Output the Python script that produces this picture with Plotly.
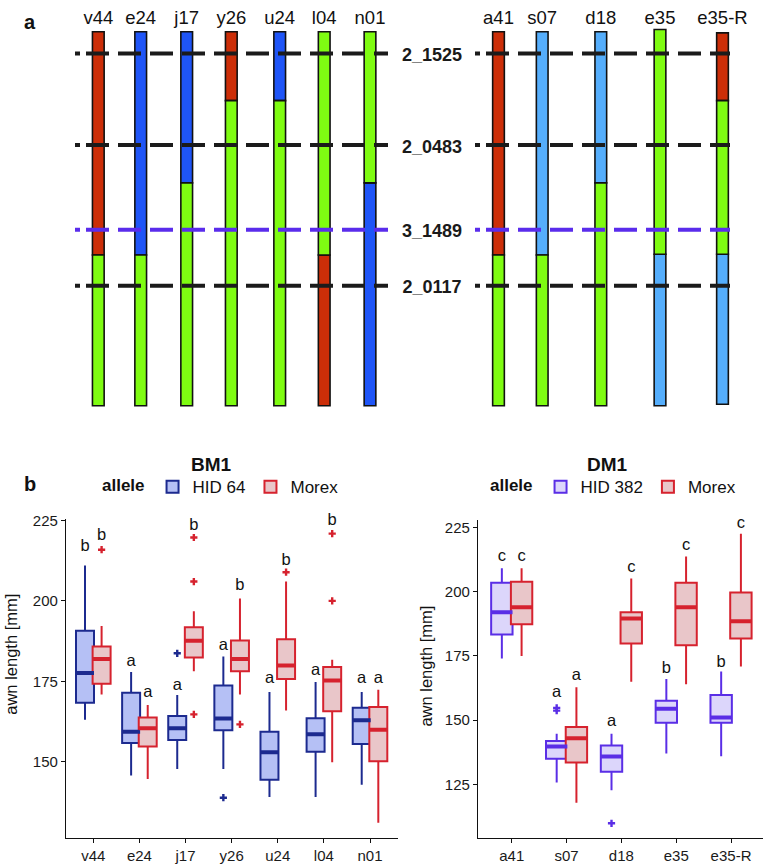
import plotly.graph_objects as go

# ---------------- DATA ----------------
# Panel a: graphical genotypes (positions in relative units, 0 = top, 100 = bottom)
chrom_lines = ["v44", "e24", "j17", "y26", "u24", "l04", "n01", "a41", "s07", "d18", "e35", "e35-R"]
seg_line = ["v44", "v44", "e24", "e24", "j17", "j17", "y26", "y26", "u24", "u24", "l04", "l04",
            "n01", "n01", "a41", "a41", "s07", "s07", "d18", "d18", "e35", "e35",
            "e35-R", "e35-R", "e35-R"]
seg_geno = ["Morex", "Bowman", "HID 64", "Bowman", "HID 64", "Bowman", "Morex", "Bowman",
            "HID 64", "Bowman", "Bowman", "Morex", "Bowman", "HID 64", "Morex", "Bowman",
            "HID 382", "Bowman", "HID 382", "Bowman", "Bowman", "HID 382",
            "Morex", "Bowman", "HID 382"]
seg_start = [0, 59.7, 0, 59.7, 0, 40.4, 0, 18.4, 0, 18.4, 0, 59.7, 0, 40.4, 0, 59.7,
             0, 59.7, 0, 40.4, -0.6, 59.5, 0.3, 18.4, 59.5]
seg_end = [59.7, 100, 59.7, 100, 40.4, 100, 18.4, 100, 18.4, 100, 59.7, 100, 40.4, 100, 59.7, 100,
           59.7, 100, 40.4, 100, 59.5, 100, 18.4, 59.5, 99.6]
marker_names = ["2_1525", "2_0483", "3_1489", "2_0117"]
marker_pos = [5.8, 30.3, 52.9, 67.9]

# Panel b: BM1
bm1_lines = ["v44", "e24", "j17", "y26", "u24", "l04", "n01"]
bm1_hid_low = [163.0, 145.7, 147.7, 147.7, 139.0, 139.0, 142.8]
bm1_hid_q1 = [168.3, 155.8, 156.7, 159.8, 144.4, 153.1, 155.5]
bm1_hid_med = [177.6, 159.3, 160.4, 163.4, 152.9, 158.5, 162.9]
bm1_hid_q3 = [190.7, 171.4, 164.2, 173.7, 159.3, 163.5, 166.8]
bm1_hid_up = [211.0, 177.9, 170.7, 182.7, 171.7, 174.8, 171.7]
bm1_hid_out_line = ["j17", "y26"]
bm1_hid_out_val = [183.7, 138.8]
bm1_mx_low = [170.9, 144.6, 178.1, 170.9, 165.9, 149.8, 131.0]
bm1_mx_q1 = [174.2, 154.7, 182.4, 178.1, 175.7, 165.7, 150.1]
bm1_mx_med = [181.9, 160.4, 187.6, 181.9, 179.9, 175.2, 159.9]
bm1_mx_q3 = [185.8, 163.7, 191.8, 187.7, 188.1, 179.4, 167.0]
bm1_mx_up = [192.2, 167.6, 196.8, 200.7, 206.0, 181.7, 172.4]
bm1_mx_out_line = ["v44", "j17", "j17", "j17", "y26", "u24", "l04", "l04"]
bm1_mx_out_val = [215.9, 219.7, 206.0, 164.7, 161.6, 208.9, 220.9, 200.0]
bm1_hid_letters = ["b", "a", "a", "a", "a", "a", "a"]
bm1_hid_letter_y = [216.9, 181.0, 173.7, 186.0, 175.8, 178.3, 175.8]
bm1_mx_letters = ["b", "a", "b", "b", "b", "b", "a"]
bm1_mx_letter_y = [220.2, 171.4, 223.3, 204.6, 212.5, 224.8, 175.8]

# Panel b: DM1
dm1_lines = ["a41", "s07", "d18", "e35", "e35-R"]
dm1_hid_low = [174.0, 125.8, 122.8, 137.0, 136.0]
dm1_hid_q1 = [183.3, 135.0, 129.9, 149.0, 149.0]
dm1_hid_med = [192.0, 139.8, 135.9, 154.4, 151.0]
dm1_hid_q3 = [203.4, 141.9, 140.2, 157.6, 159.8]
dm1_hid_up = [209.1, 144.7, 144.7, 166.0, 168.9]
dm1_hid_out_line = ["s07", "s07", "d18"]
dm1_hid_out_val = [154.8, 153.7, 109.9]
dm1_mx_low = [175.0, 117.9, 164.9, 164.0, 170.9]
dm1_mx_q1 = [187.3, 133.5, 179.8, 179.1, 181.8]
dm1_mx_med = [193.9, 143.0, 189.5, 193.9, 188.5]
dm1_mx_q3 = [203.8, 147.3, 192.0, 203.4, 199.6]
dm1_mx_up = [209.1, 162.8, 205.1, 213.6, 222.5]
dm1_hid_letters = ["c", "a", "a", "b", "b"]
dm1_hid_letter_y = [213.6, 160.8, 149.5, 169.8, 172.2]
dm1_mx_letters = ["c", "a", "c", "c", "c"]
dm1_mx_letter_y = [213.6, 167.3, 209.4, 217.6, 226.5]

# ---------------- LAYOUT / STYLE ----------------
W, H = 767, 866
FONT = "Liberation Sans, Arial, sans-serif"
lane_x = [98.3, 140.7, 186.7, 231.3, 279.7, 324.2, 370.0, 498.5, 542.2, 600.8, 660.0, 722.5]
lane_pos = dict(zip(chrom_lines, lane_x))
geno_color = {"Morex": "#cc2e08", "HID 64": "#1f55f7", "HID 382": "#55aefc", "Bowman": "#7ffc12"}
marker_color = ["#1b1b1b", "#1b1b1b", "#5a2cec", "#1b1b1b"]
seg_left = (75, 388)
seg_right = (475, 730)
label_x = 432
dash = "5px,6px," + ",".join(["23px,9px"] * 14)

c_hid64 = "#1c2a8f"
f_hid64 = "#b5c0f5"
c_hid382 = "#5a2ee6"
f_hid382 = "#dcd6fb"
c_mx = "#d6222e"
f_mx = "#e9c6c9"
off = 0.18
bw = 0.39


def px(x):
    return x / W


def py(y):
    return 1 - y / H


fig = go.Figure()

# ---- Panel a ----
for g in ["Morex", "HID 64", "HID 382", "Bowman"]:
    idx = [i for i, s in enumerate(seg_geno) if s == g]
    fig.add_trace(go.Bar(
        x=[lane_pos[seg_line[i]] for i in idx],
        base=[seg_start[i] for i in idx],
        y=[seg_end[i] - seg_start[i] for i in idx],
        width=11.7,
        marker=dict(color=geno_color[g], line=dict(color="#111", width=1.6)),
        showlegend=False, hoverinfo="skip", xaxis="x", yaxis="y"))

for name, pos, col in zip(marker_names, marker_pos, marker_color):
    for a, b in (seg_left, seg_right):
        fig.add_trace(go.Scatter(
            x=[a, b], y=[pos, pos], mode="lines",
            line=dict(color=col, width=4, dash=dash),
            showlegend=False, hoverinfo="skip", xaxis="x", yaxis="y"))

fig.add_trace(go.Scatter(
    x=[label_x] * len(marker_names), y=[p + 0.8 for p in marker_pos],
    mode="text", text=["<b>%s</b>" % m for m in marker_names],
    textfont=dict(size=18, color="#1a1a1a", family=FONT),
    showlegend=False, hoverinfo="skip", xaxis="x", yaxis="y"))

fig.add_trace(go.Scatter(
    x=lane_x, y=[-3.3] * len(chrom_lines), mode="text", text=chrom_lines,
    textfont=dict(size=18.5, color="#111", family=FONT),
    showlegend=False, hoverinfo="skip", xaxis="x", yaxis="y", cliponaxis=False))


# ---- Panel b ----
def add_boxes(lines, low, q1, med, q3, up, out_line, out_val, letters, letter_y,
              shift, lc, fc, name, xa, ya, legend):
    xs = [i + shift for i in range(len(lines))]
    fig.add_trace(go.Box(
        x=xs, q1=q1, median=med, q3=q3, lowerfence=low, upperfence=up,
        width=bw, whiskerwidth=0, boxpoints=False,
        line=dict(color=lc, width=2), fillcolor=fc, name=name,
        legend=legend, xaxis=xa, yaxis=ya, hoverinfo="skip"))
    mx, my = [], []
    for x, m in zip(xs, med):
        mx += [x - bw / 2, x + bw / 2, None]
        my += [m, m, None]
    fig.add_trace(go.Scatter(x=mx, y=my, mode="lines", line=dict(color=lc, width=4),
                             showlegend=False, hoverinfo="skip", xaxis=xa, yaxis=ya))
    fig.add_trace(go.Scatter(
        x=[lines.index(l) + shift for l in out_line], y=out_val, mode="markers",
        marker=dict(symbol="cross", size=6, color=lc, line=dict(width=0)),
        showlegend=False, hoverinfo="skip", xaxis=xa, yaxis=ya))
    fig.add_trace(go.Scatter(
        x=xs, y=letter_y, mode="text", text=letters,
        textfont=dict(size=16.5, color="#111", family=FONT),
        showlegend=False, hoverinfo="skip", xaxis=xa, yaxis=ya, cliponaxis=False))


add_boxes(bm1_lines, bm1_hid_low, bm1_hid_q1, bm1_hid_med, bm1_hid_q3, bm1_hid_up,
          bm1_hid_out_line, bm1_hid_out_val, bm1_hid_letters, bm1_hid_letter_y,
          -off, c_hid64, f_hid64, "HID 64", "x2", "y2", "legend")
add_boxes(bm1_lines, bm1_mx_low, bm1_mx_q1, bm1_mx_med, bm1_mx_q3, bm1_mx_up,
          bm1_mx_out_line, bm1_mx_out_val, bm1_mx_letters, bm1_mx_letter_y,
          off, c_mx, f_mx, "Morex", "x2", "y2", "legend")
add_boxes(dm1_lines, dm1_hid_low, dm1_hid_q1, dm1_hid_med, dm1_hid_q3, dm1_hid_up,
          dm1_hid_out_line, dm1_hid_out_val, dm1_hid_letters, dm1_hid_letter_y,
          -off, c_hid382, f_hid382, "HID 382", "x3", "y3", "legend2")
add_boxes(dm1_lines, dm1_mx_low, dm1_mx_q1, dm1_mx_med, dm1_mx_q3, dm1_mx_up,
          [], [], dm1_mx_letters, dm1_mx_letter_y,
          off, c_mx, f_mx, "Morex", "x3", "y3", "legend2")

axis_common = dict(showline=True, linecolor="#111", linewidth=1.3, ticks="outside",
                   ticklen=4, tickwidth=1.3, tickcolor="#111", showgrid=False,
                   zeroline=False, tickfont=dict(size=15, color="#1a1a1a", family=FONT))

legend_common = dict(orientation="h", yanchor="middle", xanchor="left",
                     font=dict(size=17, color="#111", family=FONT),
                     title=dict(text="<b>allele</b>", side="left",
                                font=dict(size=17, color="#111", family=FONT)),
                     bgcolor="rgba(0,0,0,0)", itemclick=False, tracegroupgap=0)


def ann(text, x, y, size, angle=0):
    return dict(text=text, x=px(x), y=py(y), xref="paper", yref="paper",
                xanchor="center", yanchor="middle", showarrow=False, textangle=angle,
                font=dict(size=size, color="#111", family=FONT))


fig.update_layout(
    width=W, height=H, margin=dict(l=0, r=0, t=0, b=0),
    paper_bgcolor="white", plot_bgcolor="white",
    barmode="overlay", boxmode="overlay",
    font=dict(family=FONT, color="#111"),
    xaxis=dict(domain=[0, 1], range=[0, W], visible=False, anchor="y", fixedrange=True),
    yaxis=dict(domain=[py(420), 1], range=[104.77, -6.63], visible=False, anchor="x"),
    xaxis2=dict(domain=[px(66), px(398)], range=[-0.592, 6.607], anchor="y2",
                tickmode="array", tickvals=list(range(len(bm1_lines))), ticktext=bm1_lines,
                **axis_common),
    yaxis2=dict(domain=[py(838), py(516)], range=[126.2, 225.5], anchor="x2",
                tickmode="array", tickvals=[150, 175, 200, 225], **axis_common),
    xaxis3=dict(domain=[px(478), px(763)], range=[-0.615, 4.583], anchor="y3",
                tickmode="array", tickvals=list(range(len(dm1_lines))), ticktext=dm1_lines,
                **axis_common),
    yaxis3=dict(domain=[py(838), py(517)], range=[104.1, 227.9], anchor="x3",
                tickmode="array", tickvals=[125, 150, 175, 200, 225], **axis_common),
    legend=dict(x=px(100), y=py(484), **legend_common),
    legend2=dict(x=px(488), y=py(484), **legend_common),
    annotations=[
        ann("<b>a</b>", 30, 15, 20),
        ann("<b>b</b>", 30, 481, 20),
        ann("<b>BM1</b>", 211, 461, 19),
        ann("<b>DM1</b>", 607, 461, 19),
        ann("awn length [mm]", 11, 653, 16.5, -90),
        ann("awn length [mm]", 426, 665, 16.5, -90),
    ],
)

post = ("document.body.style.margin='0';document.body.style.overflow='hidden';"
        "var d=document.getElementById('{plot_id}');"
        "d.style.position='absolute';d.style.top='0px';d.style.left='0px';")
fig.write_html("out.html", post_script=post, config={"displayModeBar": False})
